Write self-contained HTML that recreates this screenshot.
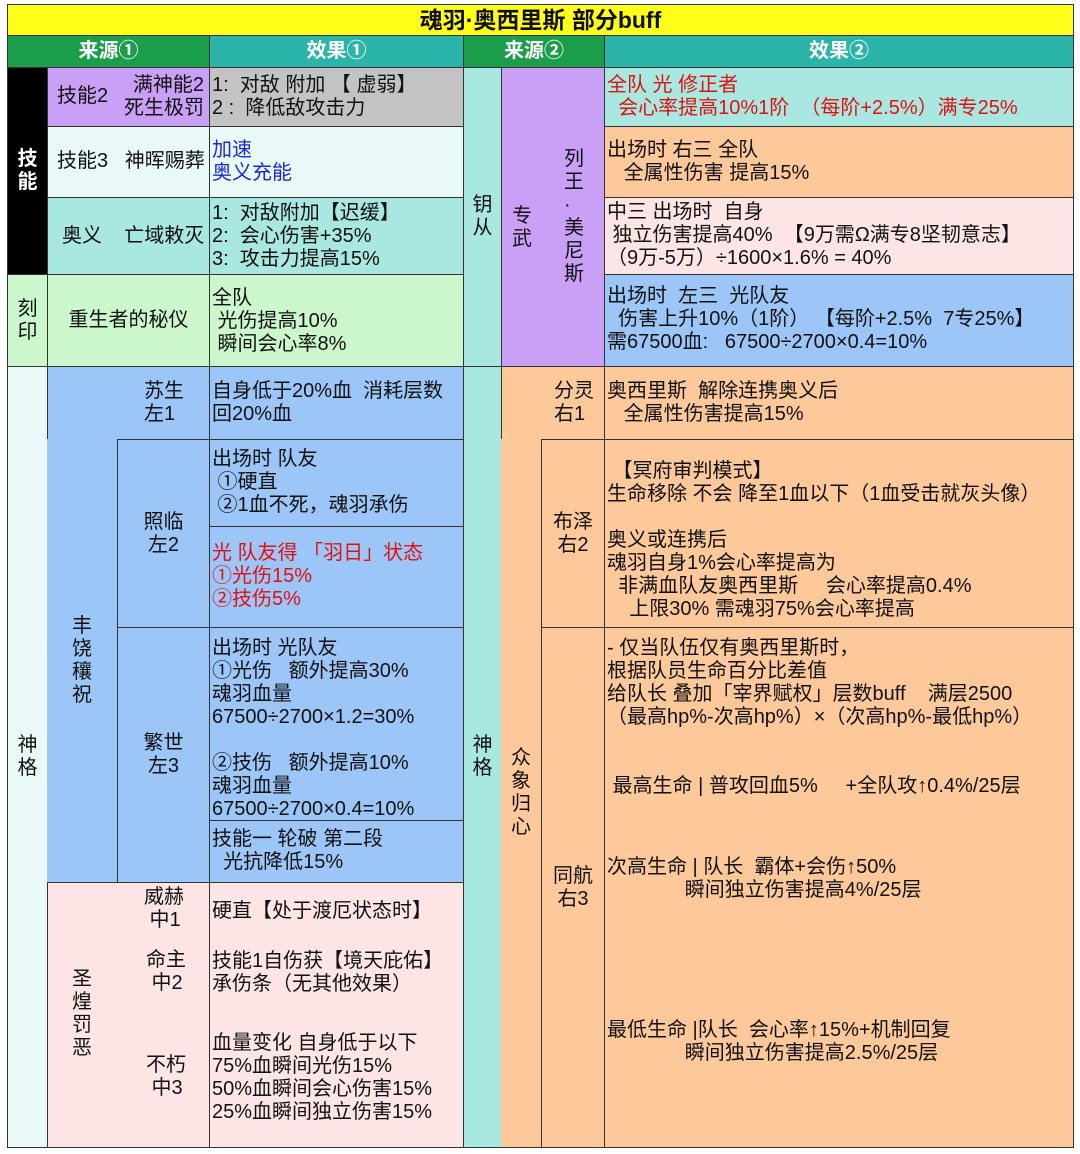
<!DOCTYPE html>
<html><head><meta charset="utf-8"><style>
body{margin:0;width:1080px;height:1154px;background:#fff;position:relative;overflow:hidden;font-family:"Liberation Sans","Noto Sans CJK SC",sans-serif;font-size:20px;color:#111}
.c{position:absolute;box-sizing:border-box;border:1px solid #333;overflow:hidden}
.f{display:flex;align-items:center;justify-content:center;text-align:center;line-height:23px}
.t{position:absolute;white-space:pre;line-height:23px}
.h{color:#fff;font-weight:bold;font-size:20px}
.red{color:#e01010}.blue{color:#1a2ad0}
</style></head><body>
<div class="c f" style="left:7px;top:4px;width:1067px;height:32px;background:#ffff1a;font-weight:bold;font-size:23px">魂羽·奥西里斯 部分buff</div>
<div class="c f h" style="left:7px;top:35px;width:203px;height:33px;background:#1a9e4a">来源①</div>
<div class="c f h" style="left:209px;top:35px;width:255px;height:33px;background:#2bb5a8">效果①</div>
<div class="c f h" style="left:463px;top:35px;width:142px;height:33px;background:#1a9e4a">来源②</div>
<div class="c f h" style="left:604px;top:35px;width:470px;height:33px;background:#2bb5a8">效果②</div>

<div class="c f" style="left:7px;top:67px;width:41px;height:208px;background:#000;color:#fff;font-weight:bold;font-size:20px">技<br>能</div>
<div class="c" style="left:47px;top:67px;width:163px;height:60px;background:#c9a0f5"><div class="t" style="left:9px;top:17px">技能2</div><div class="t" style="left:76px;top:6px;text-align:right">满神能2
死生极罚</div></div>
<div class="c" style="left:209px;top:67px;width:255px;height:60px;background:#c3c3c3"><div class="t" style="left:2px;top:6px">1:  对敌 附加 【 虚弱】
2 :  降低敌攻击力</div></div>
<div class="c" style="left:47px;top:126px;width:163px;height:72px;background:#e8f9f7"><div class="t" style="left:9px;top:23px">技能3   神晖赐葬</div></div>
<div class="c" style="left:209px;top:126px;width:255px;height:72px;background:#e8f9f7"><div class="t blue" style="left:2px;top:12px">加速
奥义充能</div></div>
<div class="c" style="left:47px;top:197px;width:163px;height:78px;background:#a9e8e1"><div class="t" style="left:14px;top:27px">奥义    亡域敕灭</div></div>
<div class="c" style="left:209px;top:197px;width:255px;height:78px;background:#a9e8e1"><div class="t" style="left:2px;top:4px">1:  对敌附加【迟缓】
2:  会心伤害+35%
3:  攻击力提高15%</div></div>
<div class="c f" style="left:7px;top:274px;width:41px;height:93px;background:#ccf7cc">刻<br>印</div>
<div class="c f" style="left:47px;top:274px;width:163px;height:93px;background:#ccf7cc">重生者的秘仪</div>
<div class="c" style="left:209px;top:274px;width:255px;height:93px;background:#ccf7cc"><div class="t" style="left:2px;top:12px">全队
 光伤提高10%
 瞬间会心率8%</div></div>

<div class="c f" style="left:7px;top:366px;width:41px;height:782px;background:#e8f9f7">神<br>格</div>
<div class="c" style="left:47px;top:366px;width:163px;height:517px;background:#9cc6f8"></div>
<div class="c f" style="left:47px;top:439px;width:71px;height:444px;background:#9cc6f8;border-top:none;border-left:none">丰<br>饶<br>穰<br>祝</div>
<div class="t" style="left:144px;top:380px">苏生
左1</div>
<div class="c f" style="left:117px;top:439px;width:93px;height:189px;background:#9cc6f8">照临<br>左2</div>
<div class="c f" style="left:117px;top:627px;width:93px;height:256px;background:#9cc6f8">繁世<br>左3</div>
<div class="c" style="left:209px;top:366px;width:255px;height:74px;background:#9cc6f8"><div class="t" style="left:2px;top:13px">自身低于20%血  消耗层数
回20%血</div></div>
<div class="c" style="left:209px;top:439px;width:255px;height:88px;background:#9cc6f8"><div class="t" style="left:2px;top:8px">出场时 队友
 ①硬直
 ②1血不死，魂羽承伤</div></div>
<div class="c" style="left:209px;top:526px;width:255px;height:102px;background:#9cc6f8"><div class="t red" style="left:2px;top:15px">光 队友得 「羽日」状态
①光伤15%
②技伤5%</div></div>
<div class="c" style="left:209px;top:627px;width:255px;height:194px;background:#9cc6f8"><div class="t" style="left:2px;top:9px">出场时 光队友
①光伤   额外提高30%
魂羽血量
67500÷2700×1.2=30%

②技伤   额外提高10%
魂羽血量
67500÷2700×0.4=10%</div></div>
<div class="c" style="left:209px;top:820px;width:255px;height:63px;background:#9cc6f8"><div class="t" style="left:2px;top:7px">技能一 轮破 第二段
  光抗降低15%</div></div>
<div class="c" style="left:47px;top:882px;width:163px;height:266px;background:#fde5e5"></div>
<div class="t" style="left:72px;top:968px">圣
煌
罚
恶</div>
<div class="t" style="left:144px;top:886px">威赫
 中1</div>
<div class="t" style="left:146px;top:949px">命主
 中2</div>
<div class="t" style="left:146px;top:1054px">不朽
 中3</div>
<div class="c" style="left:209px;top:882px;width:255px;height:266px;background:#fde5e5"><div class="t" style="left:2px;top:17px">硬直【处于渡厄状态时】</div><div class="t" style="left:2px;top:67px">技能1自伤获【境天庇佑】
承伤条（无其他效果）</div><div class="t" style="left:2px;top:149px">血量变化 自身低于以下
75%血瞬间光伤15%
50%血瞬间会心伤害15%
25%血瞬间独立伤害15%</div></div>

<div class="c f" style="left:463px;top:67px;width:39px;height:300px;background:#a9e8e1">钥<br>从</div>
<div class="c" style="left:501px;top:67px;width:104px;height:300px;background:#c9a0f5"><div class="t" style="left:10px;top:137px">专
武</div><div class="t" style="left:62px;top:80px">列
王
·
美
尼
斯</div></div>
<div class="c" style="left:604px;top:67px;width:470px;height:60px;background:#a9e8e1"><div class="t red" style="left:2px;top:6px">全队 光 修正者
  会心率提高10%1阶  （每阶+2.5%）满专25%</div></div>
<div class="c" style="left:604px;top:126px;width:470px;height:72px;background:#fdc89a"><div class="t" style="left:2px;top:12px">出场时 右三 全队
   全属性伤害 提高15%</div></div>
<div class="c" style="left:604px;top:197px;width:470px;height:78px;background:#fde5e5"><div class="t" style="left:2px;top:3px">中三 出场时  自身
 独立伤害提高40%  【9万需Ω满专8坚韧意志】
（9万-5万）÷1600×1.6% = 40%</div></div>
<div class="c" style="left:604px;top:274px;width:470px;height:93px;background:#9cc6f8"><div class="t" style="left:2px;top:10px">出场时  左三  光队友
  伤害上升10%（1阶） 【每阶+2.5%  7专25%】
需67500血:   67500÷2700×0.4=10%</div></div>

<div class="c f" style="left:463px;top:366px;width:39px;height:782px;background:#a9e8e1">神<br>格</div>
<div class="c" style="left:501px;top:366px;width:104px;height:782px;background:#fdc89a"></div>
<div class="c f" style="left:501px;top:439px;width:41px;height:709px;background:#fdc89a;border-top:none;border-left:none">众<br>象<br>归<br>心</div>
<div class="t" style="left:554px;top:380px">分灵
右1</div>
<div class="c f" style="left:541px;top:439px;width:64px;height:189px;background:#fdc89a">布泽<br>右2</div>
<div class="c f" style="left:541px;top:627px;width:64px;height:521px;background:#fdc89a">同航<br>右3</div>
<div class="c" style="left:604px;top:366px;width:470px;height:74px;background:#fdc89a"><div class="t" style="left:2px;top:13px">奥西里斯  解除连携奥义后
   全属性伤害提高15%</div></div>
<div class="c" style="left:604px;top:439px;width:470px;height:189px;background:#fdc89a"><div class="t" style="left:2px;top:20px"> 【冥府审判模式】
生命移除 不会 降至1血以下（1血受击就灰头像）

奥义或连携后
魂羽自身1%会心率提高为
  非满血队友奥西里斯     会心率提高0.4%
    上限30% 需魂羽75%会心率提高</div></div>
<div class="c" style="left:604px;top:627px;width:470px;height:521px;background:#fdc89a"><div class="t" style="left:2px;top:9px">- 仅当队伍仅有奥西里斯时，
根据队员生命百分比差值
给队长 叠加「宰界赋权」层数buff    满层2500
（最高hp%-次高hp%）×（次高hp%-最低hp%）


 最高生命 | 普攻回血5%     +全队攻↑0.4%/25层</div><div class="t" style="left:2px;top:228px">次高生命 | 队长  霸体+会伤↑50%
              瞬间独立伤害提高4%/25层</div><div class="t" style="left:2px;top:391px">最低生命 |队长  会心率↑15%+机制回复
              瞬间独立伤害提高2.5%/25层</div></div>
</body></html>
